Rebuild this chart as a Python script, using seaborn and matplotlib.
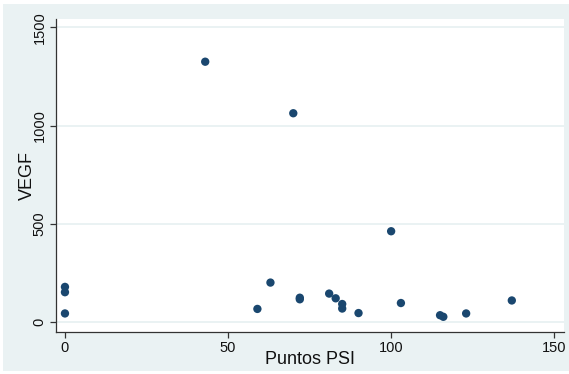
import matplotlib
matplotlib.use("Agg")
import matplotlib.pyplot as plt
from matplotlib.patches import Rectangle
import seaborn as sns
import pandas as pd

# PSI score vs VEGF level per patient
puntos_psi = [0, 0, 0, 43, 59, 63, 70, 72, 72, 81, 83, 85, 85, 90, 100, 103, 115, 116, 123, 137]
vegf = [180, 153, 45, 1325, 68, 202, 1063, 125, 117, 146, 122, 93, 70, 47, 463, 98, 36, 28, 45, 111]

x_ticks = [0, 50, 100, 150]
y_ticks = [0, 500, 1000, 1500]

df = pd.DataFrame({"Puntos PSI": puntos_psi, "VEGF": vegf})

sns.set_style("white")
plt.rcParams["font.family"] = ["Liberation Sans", "DejaVu Sans"]

bg = "#EAF2F3"
navy = "#1A476F"
axis_col = "#333333"

fig = plt.figure(figsize=(5.69, 3.74), dpi=100, facecolor="white")
# outer graph region
fig.patches.append(Rectangle((3 / 569, 3.5 / 374), 566 / 569, 366.5 / 374,
                             transform=fig.transFigure, facecolor=bg,
                             edgecolor="none", zorder=-10))

ax = fig.add_axes([55.5 / 569, (374 - 331.7) / 374,
                   (564 - 55.5) / 569, (331.7 - 18.7) / 374])
ax.set_zorder(2)
ax.set_facecolor("white")

sns.scatterplot(data=df, x="Puntos PSI", y="VEGF", ax=ax, color=navy,
                s=36, edgecolor="none", linewidth=0, zorder=3, legend=False)

ax.set_xlim(-2.9, 153.0)
ax.set_ylim(-47.8, 1543.7)
ax.set_xticks(x_ticks)
ax.set_yticks(y_ticks)
ax.set_xticklabels([str(t) for t in x_ticks], fontsize=10.5)
ax.set_yticklabels([str(t) for t in y_ticks], fontsize=10.5, rotation=90, va="center")

ax.yaxis.grid(True, color=bg, linewidth=1.4, zorder=1)
ax.xaxis.grid(False)
ax.set_axisbelow(True)

for side in ["top", "right"]:
    ax.spines[side].set_visible(False)
for side in ["left", "bottom"]:
    ax.spines[side].set_color(axis_col)
    ax.spines[side].set_linewidth(0.9)

ax.tick_params(axis="both", direction="out", length=4, width=0.9,
               color=axis_col, labelcolor="#111111")
ax.tick_params(axis="x", pad=3, bottom=True)
ax.tick_params(axis="y", pad=2.5, left=True)

ax.set_xlabel("Puntos PSI", fontsize=13, color="#111111", va="center")
ax.set_ylabel("VEGF", fontsize=13, color="#111111", va="center", ha="center")
ax.xaxis.set_label_coords(0.5, (331.7 - 360) / 313)
ax.yaxis.set_label_coords((27 - 55.5) / 508.5, 0.5)

fig.savefig("out.png", dpi=100, facecolor="white")
